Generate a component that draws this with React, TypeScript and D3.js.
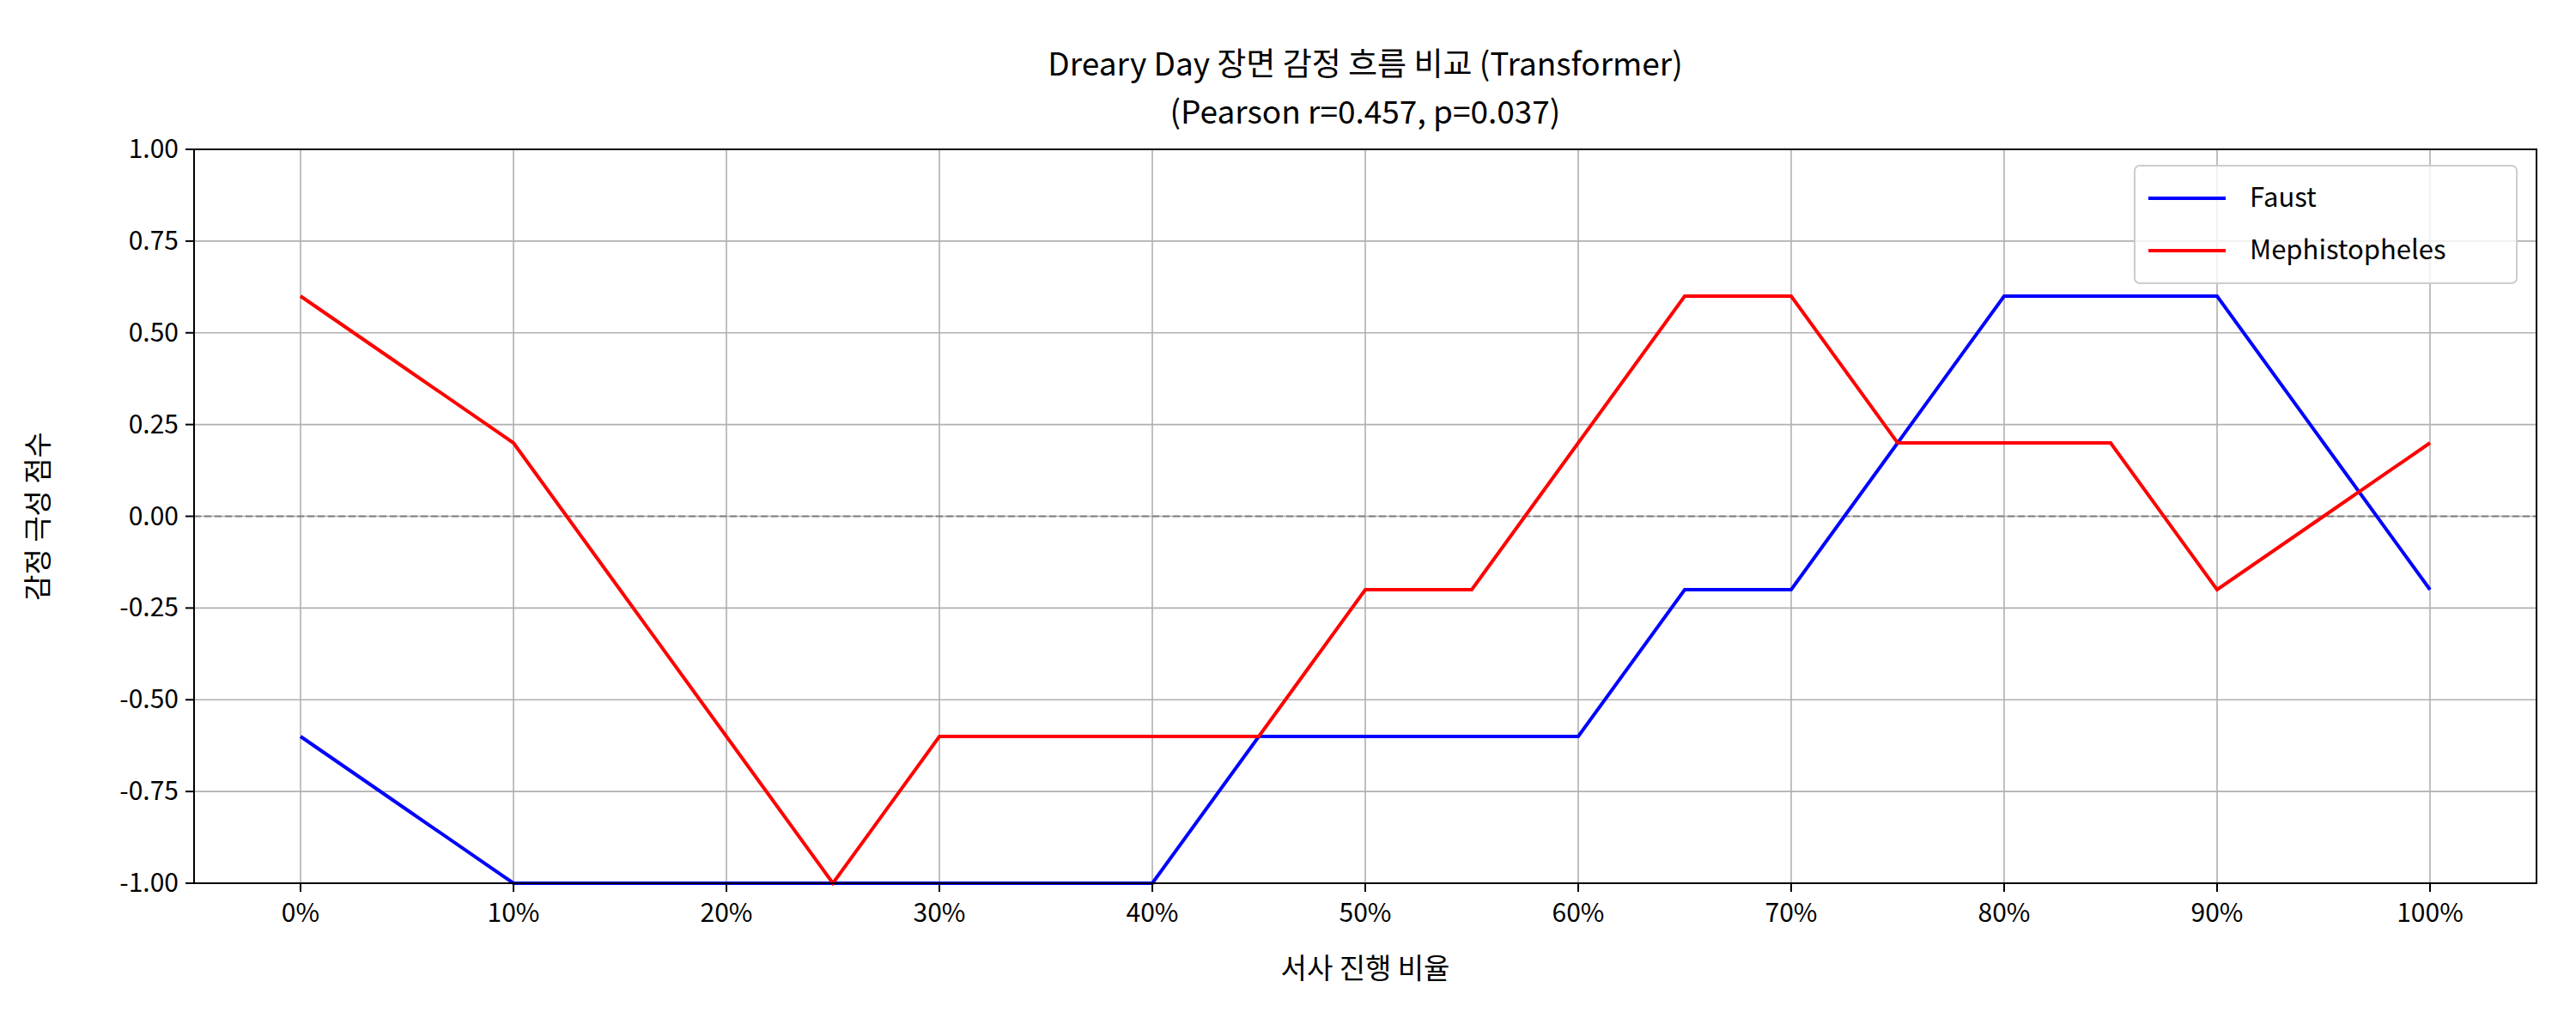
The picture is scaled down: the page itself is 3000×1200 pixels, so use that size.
import React from "react";
import * as d3 from "d3";

const xs = [0,5,10,15,20,25,30,35,40,45,50,55,60,65,70,75,80,85,90,95,100];
const faust = [-0.6,-0.8,-1,-1,-1,-1,-1,-1,-1,-0.6,-0.6,-0.6,-0.6,-0.2,-0.2,0.2,0.6,0.6,0.6,0.2,-0.2];
const meph = [0.6,0.4,0.2,-0.2,-0.6,-1,-0.6,-0.6,-0.6,-0.6,-0.2,-0.2,0.2,0.6,0.6,0.2,0.2,0.2,-0.2,0,0.2];
const xTicks = [0,10,20,30,40,50,60,70,80,90,100];
const yTicks = [-1,-0.75,-0.5,-0.25,0,0.25,0.5,0.75,1];

const W = 3000, H = 1200;
const L = 226, R = 2954, T = 174, B = 1029;
const font = "'Noto Sans CJK KR', 'Noto Sans', sans-serif";

export default function App() {
  const x = d3.scaleLinear().domain([-5, 105]).range([L, R]);
  const y = d3.scaleLinear().domain([-1, 1]).range([B, T]);
  const line = d3.line<number>().x((_, i) => x(xs[i])).y(d => y(d));
  return (
    <svg width={W} height={H} style={{ display: "block", position: "absolute", left: 0, top: 0, background: "#fff", fontFamily: font }}>
      <rect x={0} y={0} width={W} height={H} fill="#fff" />
      {xTicks.map(t => <line key={"gx"+t} x1={x(t)} x2={x(t)} y1={T} y2={B} stroke="#b0b0b0" strokeWidth={1.6} />)}
      {yTicks.map(t => <line key={"gy"+t} x1={L} x2={R} y1={y(t)} y2={y(t)} stroke="#b0b0b0" strokeWidth={1.6} />)}
      <line x1={L} x2={R} y1={y(0)} y2={y(0)} stroke="#808080" strokeWidth={2} strokeDasharray="8,4" />
      <path d={line(faust)!} fill="none" stroke="#0000ff" strokeWidth={4} />
      <path d={line(meph)!} fill="none" stroke="#ff0000" strokeWidth={4} />
      <rect x={L} y={T} width={R-L} height={B-T} fill="none" stroke="#000" strokeWidth={2} />
      {xTicks.map(t => (
        <g key={"tx"+t}>
          <line x1={x(t)} x2={x(t)} y1={B} y2={B+10} stroke="#000" strokeWidth={2} />
          <text x={x(t)} y={B+45} fontSize={30} textAnchor="middle">{t}%</text>
        </g>
      ))}
      {yTicks.map(t => (
        <g key={"ty"+t}>
          <line x1={L-10} x2={L} y1={y(t)} y2={y(t)} stroke="#000" strokeWidth={2} />
          <text x={L-18} y={y(t)+10} fontSize={30} textAnchor="end">{t.toFixed(2)}</text>
        </g>
      ))}
      <text x={(L+R)/2} y={1140} fontSize={33} textAnchor="middle">서사 진행 비율</text>
      <text transform={`translate(56,${(T+B)/2}) rotate(-90)`} fontSize={33} textAnchor="middle">감정 극성 점수</text>
      <text x={(L+R)/2} y={88} fontSize={37} textAnchor="middle">Dreary Day 장면 감정 흐름 비교 (Transformer)</text>
      <text x={(L+R)/2} y={144} fontSize={37} textAnchor="middle">(Pearson r=0.457, p=0.037)</text>
      <g>
        <rect x={2486} y={193} width={445} height={137} rx={6} fill="#fff" fillOpacity={0.8} stroke="#ccc" strokeWidth={2} />
        <line x1={2502} x2={2592} y1={231} y2={231} stroke="#0000ff" strokeWidth={4} />
        <text x={2620} y={241} fontSize={31}>Faust</text>
        <line x1={2502} x2={2592} y1={292} y2={292} stroke="#ff0000" strokeWidth={4} />
        <text x={2620} y={302} fontSize={31}>Mephistopheles</text>
      </g>
    </svg>
  );
}
